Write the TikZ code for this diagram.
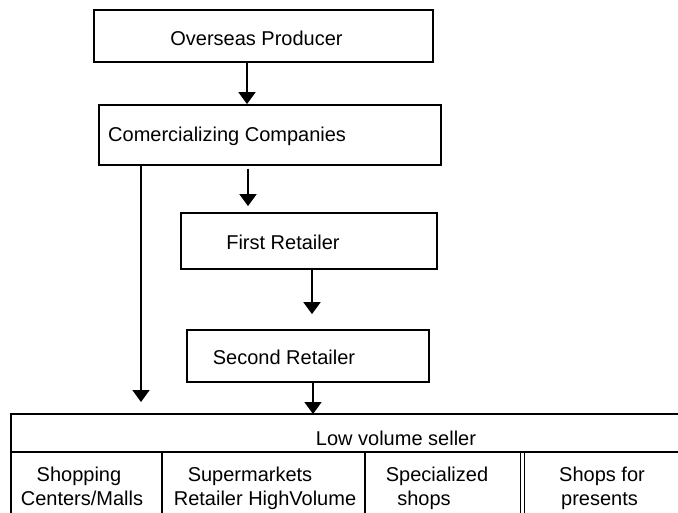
\documentclass[tikz,border=0pt]{standalone}
\usepackage{fontspec}
\setmainfont{Liberation Sans}
\usetikzlibrary{arrows.meta}
\begin{document}
\begin{tikzpicture}[x=1pt,y=-1pt,
  box/.style={draw=black, line width=1.8pt, rectangle, inner sep=0pt},
  lbl/.style={inner sep=0pt, font=\fontsize{20}{24}\selectfont, anchor=base},
  lblw/.style={lbl, anchor=base west},
  flow/.style={line width=1.8pt, -{Triangle[width=17pt,length=12pt]}},
  grid/.style={line width=1.8pt}]
\useasboundingbox (0,0) rectangle (678,512);
\clip (0,0) rectangle (678,512);
% boxes
\node[box, minimum width=339pt, minimum height=52pt] (ovs) at (263.5,36) {};
\node[box, minimum width=342pt, minimum height=60pt] (com) at (270,135) {};
\node[box, minimum width=256pt, minimum height=56pt] (fr) at (309,241) {};
\node[box, minimum width=242pt, minimum height=52pt] (sr) at (308,356) {};
% labels
\node[lbl] (tovs) at (256.5,45) {Overseas Producer};
\node[lblw] (tcom) at (108,141) {Comercializing Companies};
\node[lbl] (tfr) at (283,249) {First Retailer};
\node[lbl] (tsr) at (284,364) {Second Retailer};
% bottom table
\coordinate (tl) at (11,414);
\coordinate (tr) at (690,414);
\coordinate (ml) at (11,452);
\coordinate (mr) at (690,452);
\coordinate (bl) at (11,520);
\draw[grid] (tr) -- (tl) -- (bl);
\draw[grid] (ml) -- (mr);
\coordinate (d1t) at (162,452); \coordinate (d1b) at (162,520);
\coordinate (d2t) at (365,452); \coordinate (d2b) at (365,520);
\coordinate (d3t) at (520.5,452); \coordinate (d3b) at (520.5,520);
\coordinate (d4t) at (524.5,452); \coordinate (d4b) at (524.5,520);
\draw[grid] (d1t) -- (d1b);
\draw[grid] (d2t) -- (d2b);
\draw[line width=1.5pt] (d3t) -- (d3b);
\draw[line width=1.5pt] (d4t) -- (d4b);
\node[lbl] (low) at (396,445) {Low volume seller};
\node[lbl] (c1a) at (79,481) {Shopping};
\node[lbl] (c1b) at (82,505) {Centers/Malls};
\node[lbl] (c2a) at (250,481) {Supermarkets};
\node[lbl] (c2b) at (265,505) {Retailer HighVolume};
\node[lbl] (c3a) at (437,481) {Specialized};
\node[lbl] (c3b) at (424,505) {shops};
\node[lblw] (c4a) at (559,481) {Shops for};
\node[lblw] (c4b) at (561,505) {presents};
% connectors
\draw[flow] (ovs.south -| 247,0) -- (com.north -| 247,0);
\draw[flow, shorten <=3pt, shorten >=6pt] (com.south -| 248,0) -- (fr.north -| 248,0);
\draw[flow, shorten >=15pt] (fr.south -| 312,0) -- (sr.north -| 312,0);
\draw[flow] (sr.south -| 313,0) -- (tl -| 313,0);
\draw[flow, shorten >=12pt] (com.south -| 141,0) -- (tl -| 141,0);
\end{tikzpicture}
\end{document}
